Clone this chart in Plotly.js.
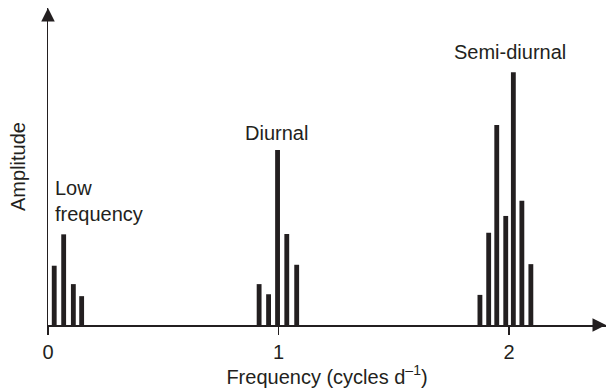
<!DOCTYPE html>
<html>
<head>
<meta charset="utf-8">
<script src="https://cdn.plot.ly/plotly-3.0.1.min.js"></script>
<style>html,body{margin:0;padding:0;background:#fff;}#chart{width:608px;height:392px;}</style>
</head>
<body>
<div id="chart"></div>
<script>
// Frequencies (cycles per day) and relative amplitudes
const lowFreq = [0.027, 0.068, 0.110, 0.146];
const lowAmp = [0.187, 0.286, 0.129, 0.091];
const diurnalFreq = [0.916, 0.957, 0.996, 1.036, 1.079];
const diurnalAmp = [0.129, 0.097, 0.552, 0.287, 0.190];
const semiFreq = [1.874, 1.912, 1.947, 1.986, 2.019, 2.056, 2.095];
const semiAmp = [0.095, 0.291, 0.631, 0.344, 0.797, 0.392, 0.192];
const tickVals = [0, 1, 2];
const tickText = ['0', '1', '2'];
const groupLabels = ['Low<br>frequency', 'Diurnal', 'Semi-diurnal'];

const ink = '#231f20';
const font = 'Arial, "Liberation Sans", Helvetica, sans-serif';
const fs = 20;
const barW = 0.021;

function barTrace(x, y) {
  return {type: 'bar', x: x, y: y, width: barW, marker: {color: ink, line: {width: 0}},
          hoverinfo: 'x+y', showlegend: false};
}

const data = [barTrace(lowFreq, lowAmp), barTrace(diurnalFreq, diurnalAmp), barTrace(semiFreq, semiAmp)];

const xMax = 2.421;
const txt = {family: font, size: fs, color: ink};
const layout = {
  width: 608, height: 392,
  margin: {l: 48, r: 2, t: 8, b: 67},
  paper_bgcolor: '#fff', plot_bgcolor: '#fff',
  font: txt,
  barmode: 'overlay',
  xaxis: {
    range: [0, xMax], showgrid: false, zeroline: false,
    showline: true, linecolor: ink, linewidth: 1.5,
    ticks: 'outside', ticklen: 8, tickwidth: 1.5, tickcolor: ink,
    tickvals: tickVals, ticktext: tickText,
    tickfont: txt,
    title: {text: 'Frequency (cycles d<sup>\u20131</sup>)', font: txt, standoff: 3},
    automargin: false,
    fixedrange: true
  },
  yaxis: {
    range: [0, 1], showgrid: false, zeroline: false,
    showline: true, linecolor: ink, linewidth: 1.5,
    ticks: '', showticklabels: false,
    title: {text: 'Amplitude', font: txt, standoff: 15},
    automargin: false,
    fixedrange: true
  },
  annotations: [
    {x: xMax, y: 0, xref: 'x', yref: 'y', ax: -14, ay: 0, axref: 'pixel', ayref: 'pixel',
     text: '', showarrow: true, arrowhead: 2, arrowsize: 1.8, arrowwidth: 1.5, arrowcolor: ink},
    {x: 0, y: 1, xref: 'x', yref: 'paper', ax: 0, ay: 14, axref: 'pixel', ayref: 'pixel',
     text: '', showarrow: true, arrowhead: 2, arrowsize: 1.8, arrowwidth: 1.5, arrowcolor: ink},
    {x: 0.023, y: 0.392, xref: 'x', yref: 'y', xanchor: 'left', yanchor: 'middle', align: 'left',
     text: groupLabels[0], showarrow: false, font: txt},
    {x: 0.991, y: 0.606, xref: 'x', yref: 'y', xanchor: 'center', yanchor: 'middle',
     text: groupLabels[1], showarrow: false, font: txt},
    {x: 2.004, y: 0.862, xref: 'x', yref: 'y', xanchor: 'center', yanchor: 'middle',
     text: groupLabels[2], showarrow: false, font: txt}
  ]
};

Plotly.newPlot('chart', data, layout, {displayModeBar: false, staticPlot: true});
</script>
</body>
</html>
